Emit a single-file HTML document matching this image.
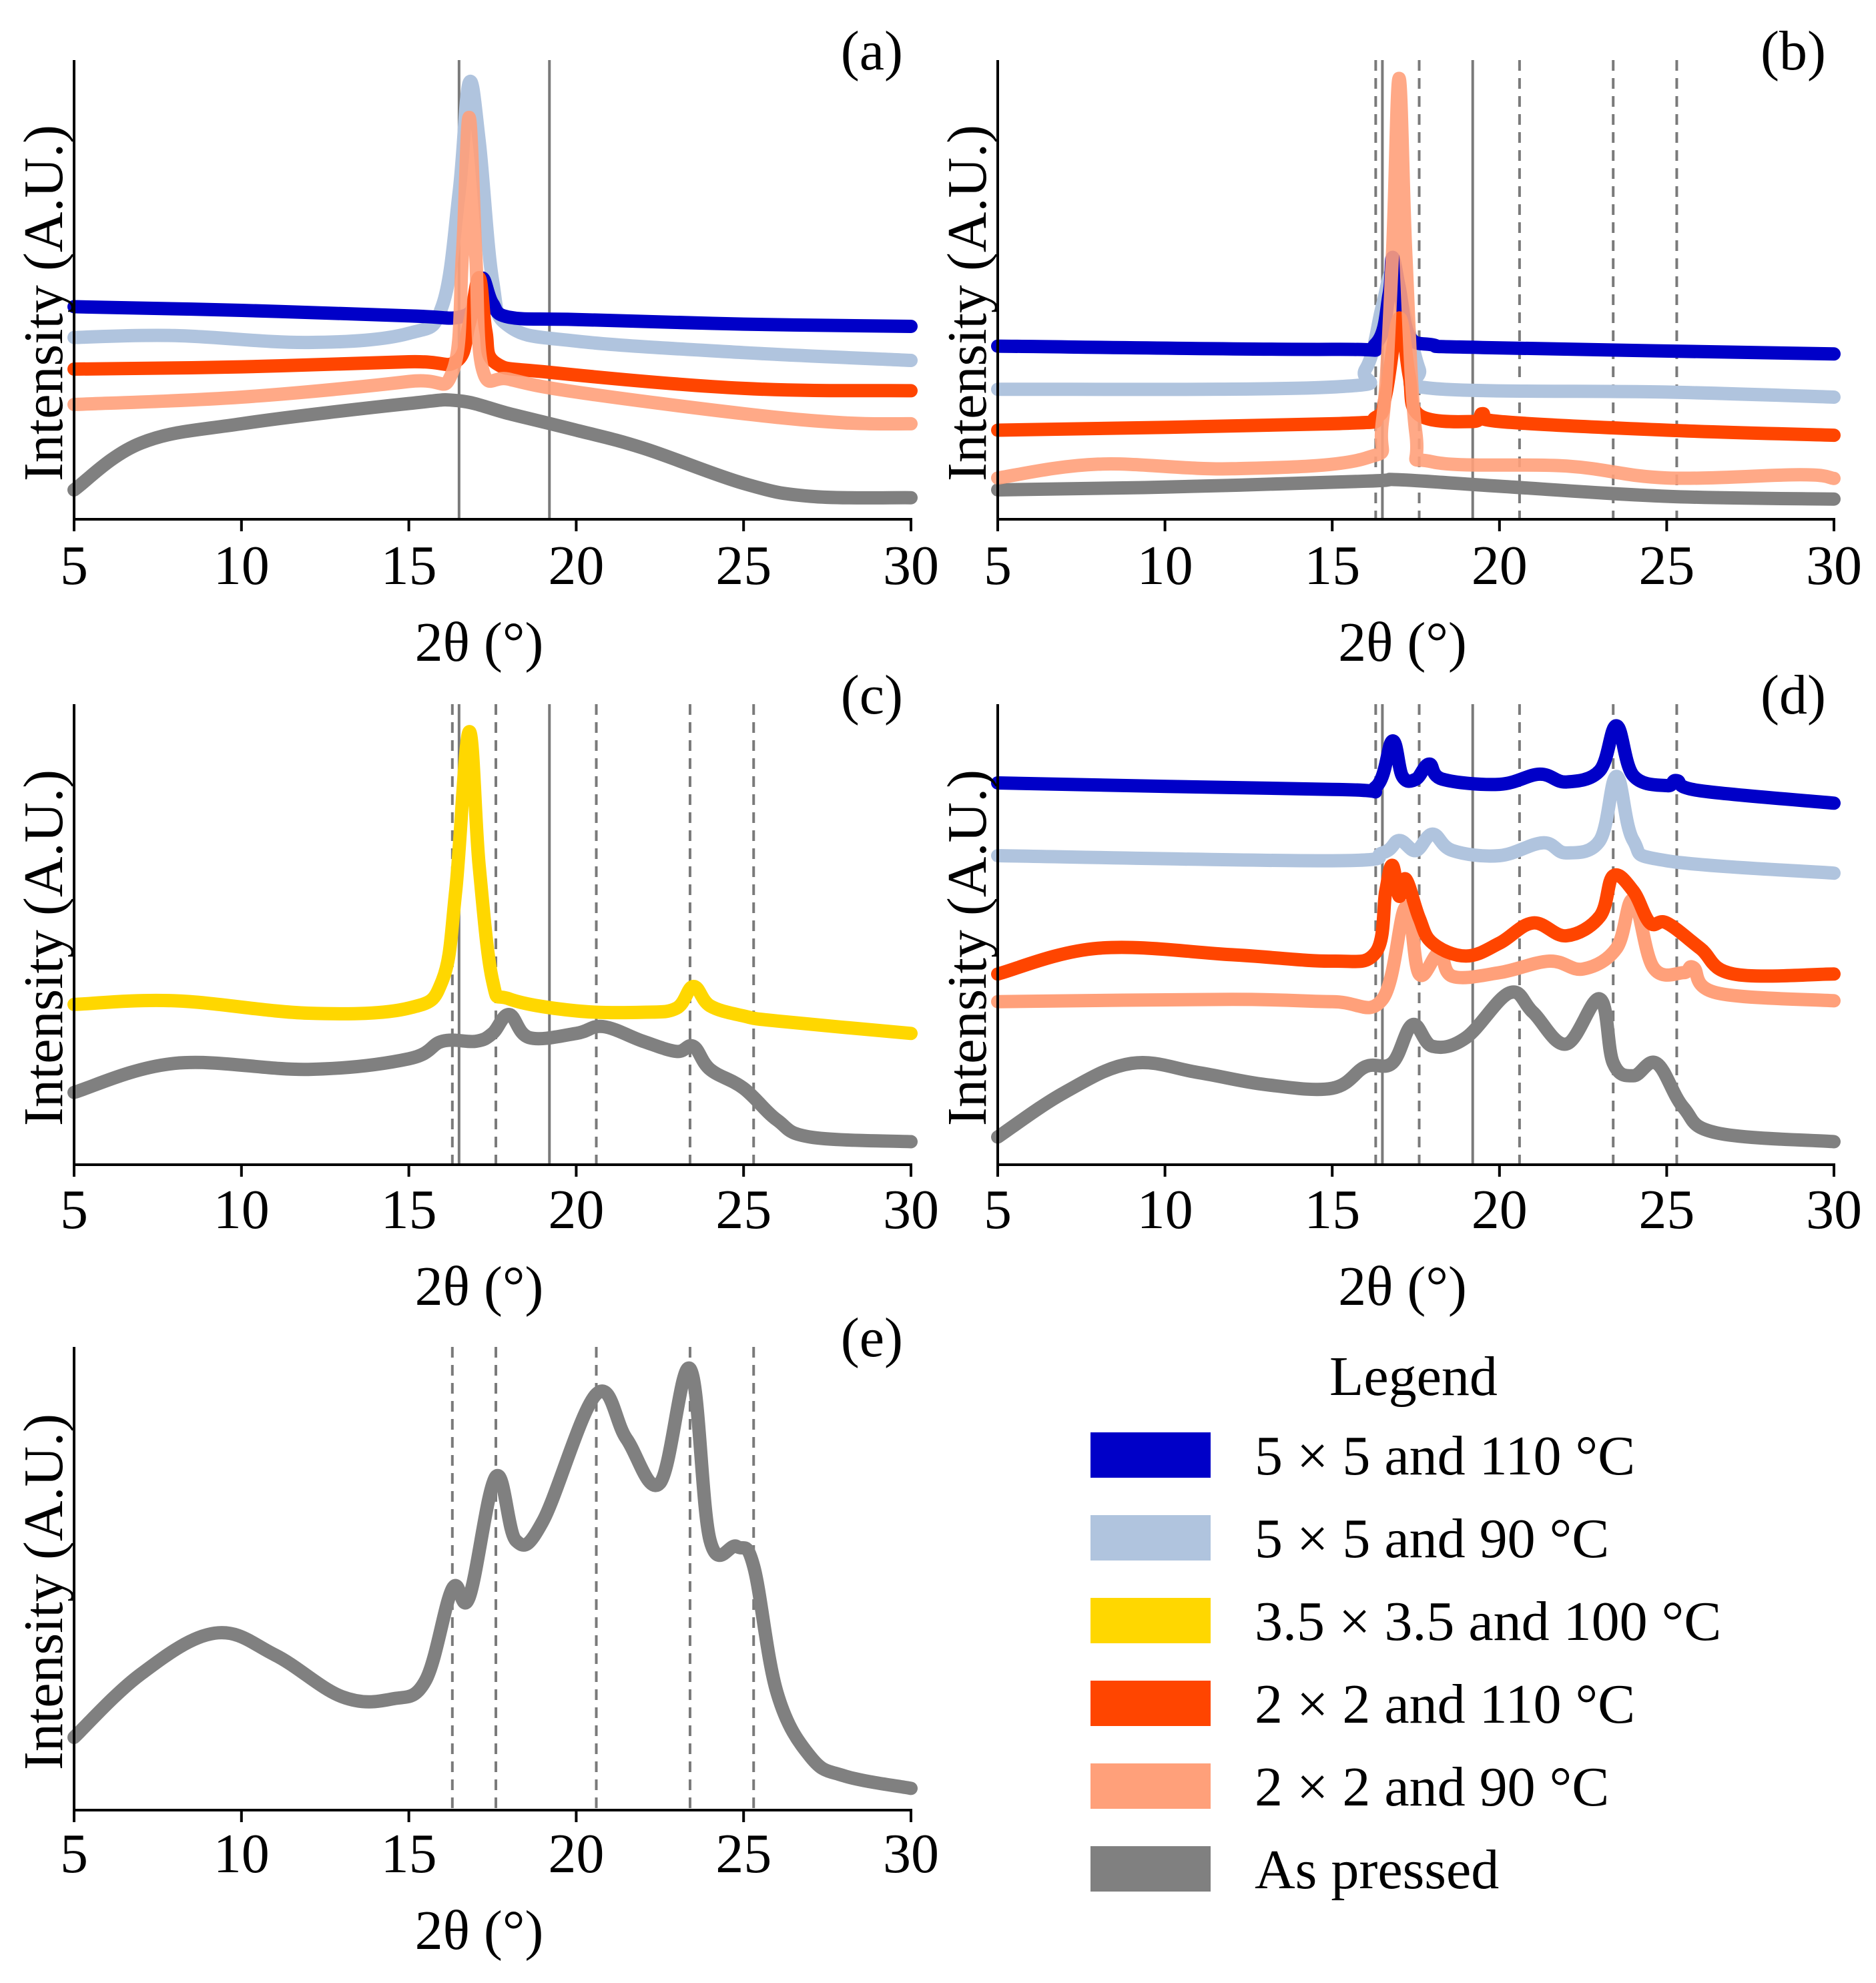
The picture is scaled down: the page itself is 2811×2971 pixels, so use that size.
<!DOCTYPE html>
<html><head><meta charset="utf-8">
<style>
html,body{margin:0;padding:0;background:#fff;}
svg{display:block;}
text{font-family:"Liberation Serif","DejaVu Serif",serif;fill:#000;}
</style></head>
<body>
<svg id="fig" width="2811" height="2971" viewBox="0 0 2811 2971" xmlns="http://www.w3.org/2000/svg"></svg>
<script>
// ---- data (x = 2θ in degrees, y = relative intensity 0..100 of panel height) ----
const xTicks = [5, 10, 15, 20, 25, 30];
const solidRefs = [16.5, 19.2];
const dashedRefs = [16.3, 17.6, 20.6, 23.4, 25.3];

const aBlueX = [5,10,15,16.5,17,17.2,17.5,18,20,25,30];
const aBlueY = [46.3,45.5,44.3,44,47,52.5,47,44,43.5,42.5,42];
const aLightX = [5,8,12,15,16,16.5,16.8,17.1,17.5,18,20,25,30];
const aLightY = [39.6,40,38.5,40.5,46.5,71,95,82.5,52,42,38.8,36.3,34.6];
const aOrangeX = [5,10,15,16.4,16.8,17.1,17.3,17.6,19.2,25,30];
const aOrangeY = [32.7,33.2,34.3,34.3,42.4,52.6,41,34,32,28.5,28];
const aSalmonX = [5,10,15,16.3,16.6,16.8,17,17.2,18,20,25,28,30];
const aSalmonY = [25,26.6,30,32,57.6,87.5,57.6,32.7,30.5,27.7,23,21,20.8];
const aGrayX = [5,7,10,15,16.5,18,20,22,25,27,30];
const aGrayY = [6.4,16.6,20.8,25.2,25.8,23,19.4,15.5,7.8,5,4.7];

const bBlueX = [5,15,16.3,16.7,16.8,17,17.3,18,19.5,30];
const bBlueY = [37.7,37,38.2,49,57,50.7,40,38,37.4,36];
const bLightX = [5,15,16,16.5,16.8,17.2,17.6,18,25,30];
const bLightY = [28.3,28.8,32.7,46.5,53.5,43.8,32.7,28.5,27.7,26.6];
const bOrangeX = [5,15,16.3,16.6,17,17.3,17.6,19.2,19.5,20,25,30];
const bOrangeY = [19.4,20.8,22.2,27.1,43.8,31.3,22.7,21.3,23,21.3,19.4,18.3];
const bSalmonX = [5,8,12,16,16.5,16.8,17,17.2,17.5,18,22,25,29,30];
const bSalmonY = [9,12,11,13.3,21.3,57.6,96,57.6,18.8,12.5,11.6,9,9.7,8.9];
const bGrayX = [5,10,16,17,20,25,30];
const bGrayY = [6.4,7,8.3,8.6,7.2,5,4.4];

const cYellowX = [5,8,12,15,16,16.4,16.8,17.1,17.5,18,20,22,23,23.5,24,25,26,30];
const cYellowY = [34.8,35.6,32.9,34,40,59.4,94,65,40,36,33.4,33.1,34,38.7,34.5,32.3,31.2,28.5];
const cGrayX = [5,8,12,15,16,17,17.5,18,18.6,20,20.8,22,23,23.5,24,25,26,27,30];
const cGrayY = [15.7,22,20.7,23,26.8,26.8,28.5,32.6,27.6,28.5,30,26.8,24.6,25.7,20.7,16.6,9.7,6,5];

const dBlueX = [5,15,16.3,16.8,17.1,17.5,17.9,18.3,20,21.2,22,23,23.5,24,25,25.3,26,30];
const dBlueY = [82.9,81.5,82,92,84.3,83.7,87,83.7,82.6,84.8,83.1,85.6,95.3,84.5,82.3,83.4,81.2,78.5];
const dLightX = [5,15,16.5,17,17.5,18,18.6,20,21.3,22,23,23.5,24,25,30];
const dLightY = [67.1,66,67.7,70.4,68.2,71.8,68.2,67.1,69.9,67.7,70.4,84.3,70.4,66,63.3];
const dOrangeX = [5,8,12,15,16.3,16.6,16.8,17,17.2,17.6,18,19,20,21,22,23,23.4,24,24.5,25,26,27,30];
const dOrangeY = [41.4,47,45.6,44.2,46.1,59.4,65,58.3,62,53.6,48.1,45.3,48.1,52.5,49.7,53.9,62.7,59.4,52.5,52.5,47,41.4,41.4];
const dSalmonX = [5,12,15,16.5,17.2,17.6,18.2,18.6,20,21.5,22.5,23.5,24,24.6,25.5,25.8,26.5,30];
const dSalmonY = [35.4,35.9,35.4,35.9,56,41.4,46,40.9,41.7,44.2,42.5,47,57.5,42.8,41.7,42.8,37.3,35.6];
const dGrayX = [5,7,9,11,13,15,16,16.8,17.4,18,19,20.3,21,22,23,23.4,24,24.7,25.5,26.5,30];
const dGrayY = [6,15.7,22,20,17.4,16.6,21.3,22.1,30.4,25.7,27.6,37.3,33.1,26.2,36,22.1,19.3,22,12.4,6.9,5];

const eGrayX = [5,7,9.2,11,13,14.5,15.5,16.3,16.8,17.6,18.2,19,20.6,21.5,22.5,23.4,24,24.8,25.3,26,27,28,30];
const eGrayY = [15.7,29.4,38.2,33.5,24.5,24,28,47.8,45.9,72,58.2,62.3,89.8,80.2,70.6,95.3,58.2,56.9,52.7,25.3,11.5,7.4,4.7];

const legendLabels = ["5 × 5 and 110 °C","5 × 5 and 90 °C","3.5 × 3.5 and 100 °C","2 × 2 and 110 °C","2 × 2 and 90 °C","As pressed"];

// ---- drawing ----
const NS = "http://www.w3.org/2000/svg";
const svg = document.getElementById('fig');
const C = {blue:"#0000C8", light:"#B0C4DE", yellow:"#FFD700", orange:"#FF4500", salmon:"#FFA07A", gray:"#808080"};
function mk(tag, attrs, parent){
  const e = document.createElementNS(NS, tag);
  for (const k in attrs) e.setAttribute(k, attrs[k]);
  (parent||svg).appendChild(e);
  return e;
}
function smoothPath(pts){
  let d = 'M' + pts[0][0].toFixed(1) + ' ' + pts[0][1].toFixed(1);
  for (let i = 0; i < pts.length - 1; i++){
    const p0 = pts[Math.max(0, i-1)], p1 = pts[i], p2 = pts[i+1], p3 = pts[Math.min(pts.length-1, i+2)];
    const t = 0.18;
    const c1x = p1[0] + (p2[0]-p0[0])*t, c1y = p1[1] + (p2[1]-p0[1])*t;
    const c2x = p2[0] - (p3[0]-p1[0])*t, c2y = p2[1] - (p3[1]-p1[1])*t;
    d += 'C' + c1x.toFixed(1)+' '+c1y.toFixed(1)+' '+c2x.toFixed(1)+' '+c2y.toFixed(1)+' '+p2[0].toFixed(1)+' '+p2[1].toFixed(1);
  }
  return d;
}
function panel(id, letter, x0, x1, yTop, yBot, refsSolid, refsDashed, series, tickY, labelY){
  const g = mk('g', {});
  
  
  const sx = v => x0 + (v - 5) / 25 * (x1 - x0);
  const sy = v => yBot - v / 100 * (yBot - yTop);
  refsSolid.forEach(r => {
    const l = mk('line', {x1:sx(r), x2:sx(r), y1:yTop, y2:yBot, stroke:"#7a7a7a", 'stroke-width':4}, g);
    
    
  });
  refsDashed.forEach(r => {
    const l = mk('line', {x1:sx(r), x2:sx(r), y1:yTop, y2:yBot, stroke:"#7a7a7a", 'stroke-width':4, 'stroke-dasharray':'16 11'}, g);
    
    
  });
  series.forEach(s => {
    const pts = s.x.map((v, i) => [sx(v), sy(s.y[i])]);
    const p = mk('path', {d:smoothPath(pts), fill:'none', stroke:s.c, 'stroke-width':20, 'stroke-linejoin':'round', 'stroke-linecap':'round', opacity:s.o||1}, g);
    
    
  });
  const ya = mk('line', {x1:x0, x2:x0, y1:yTop, y2:yBot+2, stroke:'#000', 'stroke-width':4}, g);
  
  
  const xa = mk('line', {x1:x0-2, x2:x1+2, y1:yBot, y2:yBot, stroke:'#000', 'stroke-width':4}, g);
  
  
  xTicks.forEach(t => {
    const tk = mk('line', {x1:sx(t), x2:sx(t), y1:yBot, y2:yBot+18, stroke:'#000', 'stroke-width':4}, g);
    
    
    const tl = mk('text', {x:sx(t), y:tickY, 'font-size':84, 'text-anchor':'middle'}, g);
    tl.textContent = t;
    
    
  });
  const xl = mk('text', {x:(x0+x1)/2 - 20, y:labelY, 'font-size':84, 'text-anchor':'middle'}, g);
  xl.textContent = '2θ (°)';
  
  
  const ycx = x0 - 46, ycy = (yTop + yBot) / 2 + 20;
  const yl = mk('text', {x:ycx, y:ycy, 'font-size':84, 'text-anchor':'middle', transform:`rotate(-90 ${ycx} ${ycy})`, dy:28}, g);
  yl.textContent = 'Intensity (A.U.)';
  
  
  const pl = mk('text', {x:x1 - 12, y:yTop + 14, 'font-size':84, 'text-anchor':'end'}, g);
  pl.textContent = '(' + letter + ')';
  
  
}

panel('a','a',111,1365,90,778,solidRefs,[],[
  {x:aGrayX,y:aGrayY,c:C.gray,n:'as-pressed-line'},
  {x:aLightX,y:aLightY,c:C.light,n:'5x5-90c-line'},
  {x:aBlueX,y:aBlueY,c:C.blue,n:'5x5-110c-line'},
  {x:aOrangeX,y:aOrangeY,c:C.orange,n:'2x2-110c-line'},
  {x:aSalmonX,y:aSalmonY,c:C.salmon,n:'2x2-90c-line',o:0.9}
],875,990);
panel('b','b',1495,2748,90,778,solidRefs,dashedRefs,[
  {x:bGrayX,y:bGrayY,c:C.gray,n:'as-pressed-line'},
  {x:bLightX,y:bLightY,c:C.light,n:'5x5-90c-line'},
  {x:bBlueX,y:bBlueY,c:C.blue,n:'5x5-110c-line'},
  {x:bOrangeX,y:bOrangeY,c:C.orange,n:'2x2-110c-line'},
  {x:bSalmonX,y:bSalmonY,c:C.salmon,n:'2x2-90c-line',o:0.9}
],875,990);
panel('c','c',111,1365,1055,1745,solidRefs,dashedRefs,[
  {x:cGrayX,y:cGrayY,c:C.gray,n:'as-pressed-line'},
  {x:cYellowX,y:cYellowY,c:C.yellow,n:'3.5x3.5-100c-line'}
],1840,1955);
panel('d','d',1495,2748,1055,1745,solidRefs,dashedRefs,[
  {x:dGrayX,y:dGrayY,c:C.gray,n:'as-pressed-line'},
  {x:dSalmonX,y:dSalmonY,c:C.salmon,n:'2x2-90c-line'},
  {x:dOrangeX,y:dOrangeY,c:C.orange,n:'2x2-110c-line'},
  {x:dLightX,y:dLightY,c:C.light,n:'5x5-90c-line'},
  {x:dBlueX,y:dBlueY,c:C.blue,n:'5x5-110c-line'}
],1840,1955);
panel('e','e',111,1365,2018,2712,[],dashedRefs,[
  {x:eGrayX,y:eGrayY,c:C.gray,n:'as-pressed-line'}
],2805,2920);

const lg = mk('g', {});


const lt = mk('text', {x:2118, y:2090, 'font-size':84, 'text-anchor':'middle'}, lg);
lt.textContent = 'Legend';


const legColors = [C.blue, C.light, C.yellow, C.orange, C.salmon, C.gray];
legendLabels.forEach((lab, i) => {
  const cy = 2180 + i * 124;
  const r = mk('rect', {x:1634, y:cy - 34, width:180, height:68, fill:legColors[i]}, lg);
  
  
  const t = mk('text', {x:1880, y:cy + 29, 'font-size':84}, lg);
  t.textContent = lab;
  
  
});
</script>
</body></html>
